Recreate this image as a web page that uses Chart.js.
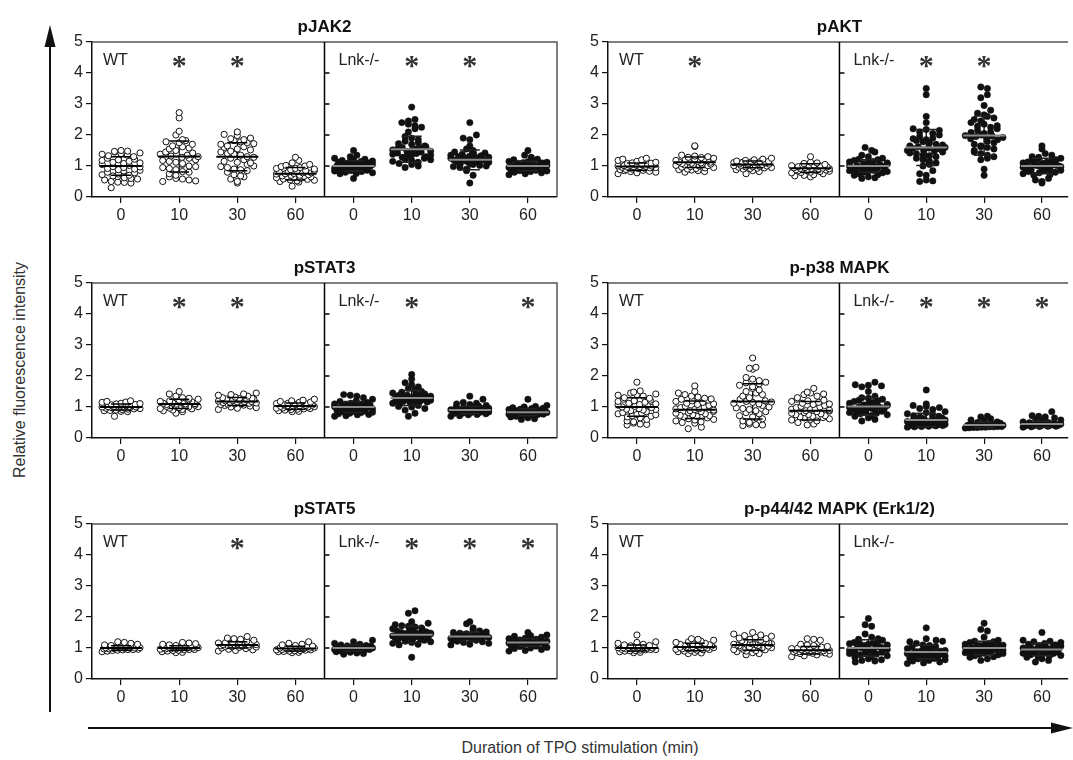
<!DOCTYPE html>
<html>
<head>
<meta charset="utf-8">
<script src="https://cdn.jsdelivr.net/npm/chart.js@4.4.0/dist/chart.umd.min.js"></script>
<style>
  html, body { margin: 0; padding: 0; background: #fff; overflow: hidden; }
  body { width: 1073px; height: 760px; position: relative; font-family: "Liberation Sans", Arial, sans-serif; }
  canvas { position: absolute; }
  .ytitle { position: absolute; left: 20px; top: 370px; transform: translate(-50%, -50%) rotate(-90deg); font-size: 16px; color: #333; white-space: nowrap; }
  .xtitle { position: absolute; left: 580px; top: 748px; transform: translate(-50%, -50%); font-size: 16px; color: #333; white-space: nowrap; }
  svg { position: absolute; left: 0; top: 0; }
</style>
</head>
<body>
<svg width="1073" height="760">
  <line x1="50" y1="712" x2="50" y2="40" stroke="#111" stroke-width="2"/>
  <polygon points="50,25 44.5,47 55.5,47" fill="#111"/>
  <line x1="88" y1="728" x2="1060" y2="728" stroke="#111" stroke-width="2"/>
  <polygon points="1073,728 1051,722.5 1051,733.5" fill="#111"/>
</svg>
<div class="ytitle">Relative fluorescence intensity</div>
<div class="xtitle">Duration of TPO stimulation (min)</div>

<canvas id="c0" width="510" height="230" style="left:52px;top:2px"></canvas>
<canvas id="c1" width="505" height="230" style="left:568px;top:2px"></canvas>
<canvas id="c2" width="510" height="230" style="left:52px;top:243px"></canvas>
<canvas id="c3" width="505" height="230" style="left:568px;top:243px"></canvas>
<canvas id="c4" width="510" height="230" style="left:52px;top:484px"></canvas>
<canvas id="c5" width="505" height="230" style="left:568px;top:484px"></canvas>

<script>
// === Dados (minutos de estímulo) ===
const times = ["0", "10", "30", "60"];
const yTicks = [0, 1, 2, 3, 4, 5];

// pJAK2
const pJAK2_WT = [
  [1.45,1.48,1.50,1.42,1.38,1.35,1.47,1.30,1.25,1.22,1.18,1.15,1.12,1.08,1.05,1.02,0.98,0.95,0.92,0.90,0.86,0.84,0.80,0.78,0.74,0.70,0.68,0.66,0.62,0.60,0.55,0.50,0.47,0.45,0.48,0.30,1.40,1.33,1.10,0.97,1.20,0.88,0.72,0.58],
  [2.72,2.55,2.12,2.00,1.85,1.82,1.78,1.75,1.70,1.62,1.58,1.55,1.50,1.45,1.42,1.38,1.35,1.32,1.28,1.25,1.20,1.15,1.12,1.08,1.05,1.00,0.98,0.92,0.88,0.82,0.80,0.75,0.65,0.60,0.55,0.52,0.50,0.58,1.65,1.40,1.30,1.18,0.95,0.70],
  [2.10,2.02,1.98,1.90,1.88,1.85,1.82,1.78,1.75,1.70,1.65,1.60,1.55,1.52,1.48,1.45,1.40,1.35,1.30,1.28,1.25,1.20,1.15,1.10,1.05,1.00,0.98,0.95,0.90,0.85,0.80,0.72,0.68,0.65,0.58,0.50,0.45,1.62,1.38,1.12,0.88,1.72],
  [1.28,1.18,1.10,1.05,1.00,0.98,0.95,0.92,0.90,0.88,0.85,0.82,0.80,0.78,0.76,0.75,0.72,0.70,0.68,0.66,0.65,0.62,0.60,0.58,0.55,0.52,0.50,0.48,0.35,0.85,0.74,0.63,0.57,0.80,0.70,0.92,0.78,0.67,0.54,1.02]
];
const pJAK2_Lnk = [
  [1.50,1.35,1.30,1.25,1.22,1.20,1.18,1.15,1.12,1.10,1.08,1.05,1.03,1.00,1.00,0.98,0.96,0.95,0.92,0.90,0.88,0.86,0.85,0.82,0.80,0.78,0.76,0.75,0.60,1.02,0.97,0.93,1.07,1.13,0.89,1.16,0.84,1.04,0.99,0.91],
  [2.90,2.50,2.45,2.40,2.35,2.30,2.25,2.20,2.10,1.95,1.90,1.85,1.80,1.75,1.70,1.65,1.60,1.58,1.55,1.52,1.50,1.48,1.45,1.42,1.40,1.38,1.35,1.32,1.30,1.28,1.25,1.22,1.20,1.15,1.12,1.08,1.05,1.00,0.95,1.62,1.47,1.36,1.18,1.72,1.55],
  [2.40,2.00,1.90,1.85,1.65,1.55,1.50,1.45,1.40,1.38,1.35,1.32,1.30,1.28,1.25,1.22,1.20,1.18,1.15,1.12,1.10,1.08,1.05,1.02,1.00,0.98,0.95,0.90,0.85,0.70,0.45,1.27,1.33,1.17,1.23,1.13,1.42,1.07,1.26,1.19],
  [1.50,1.35,1.28,1.22,1.20,1.18,1.15,1.12,1.10,1.08,1.05,1.03,1.00,0.99,0.98,0.96,0.95,0.93,0.92,0.90,0.88,0.86,0.85,0.82,0.80,0.78,0.75,0.72,1.02,1.06,0.94,0.89,1.11,0.97,0.84,1.01,1.14,0.91]
];
const pJAK2_mean = [1.00, 1.31, 1.30, 0.75, 1.00, 1.54, 1.20, 1.00];
const pJAK2_sd   = [0.30, 0.50, 0.45, 0.20, 0.17, 0.42, 0.32, 0.15];
const pJAK2_star = [0, 1, 1, 0, 0, 1, 1, 0];

// pAKT
const pAKT_WT = [
  [1.25,1.22,1.20,1.18,1.15,1.12,1.10,1.08,1.06,1.05,1.03,1.02,1.00,1.00,0.99,0.98,0.97,0.96,0.95,0.94,0.92,0.90,0.88,0.86,0.85,0.83,0.80,0.78,0.75,1.04,0.93,1.01,0.89,1.09,0.96,0.82],
  [1.65,1.63,1.35,1.32,1.30,1.28,1.25,1.22,1.20,1.18,1.15,1.13,1.12,1.10,1.08,1.06,1.05,1.03,1.02,1.00,0.98,0.96,0.95,0.92,0.90,0.88,0.85,0.82,0.80,1.17,1.09,1.23,0.94,1.01,1.14,0.87,1.27,1.04],
  [1.25,1.22,1.20,1.18,1.16,1.15,1.13,1.12,1.10,1.08,1.07,1.06,1.05,1.04,1.03,1.02,1.00,0.99,0.98,0.96,0.95,0.93,0.92,0.90,0.88,0.85,0.82,0.75,1.11,1.01,0.97,1.14,0.94,1.09],
  [1.30,1.12,1.10,1.08,1.05,1.03,1.02,1.00,0.98,0.97,0.95,0.94,0.93,0.92,0.90,0.89,0.88,0.87,0.85,0.83,0.82,0.80,0.78,0.75,0.72,0.70,0.68,0.65,0.91,0.96,0.86,1.01,0.79,0.99,0.84,0.92]
];
const pAKT_Lnk = [
  [1.60,1.50,1.45,1.35,1.30,1.25,1.22,1.20,1.18,1.15,1.12,1.10,1.08,1.05,1.03,1.02,1.00,0.98,0.97,0.95,0.93,0.92,0.90,0.88,0.86,0.85,0.82,0.80,0.78,0.75,0.72,0.70,0.65,0.62,0.60,1.06,0.94,1.01,0.89,1.13,0.99,0.84],
  [3.50,3.30,2.60,2.40,2.20,2.18,2.15,2.10,2.05,2.00,1.95,1.90,1.85,1.82,1.78,1.75,1.70,1.65,1.62,1.60,1.58,1.55,1.52,1.50,1.48,1.45,1.40,1.35,1.30,1.25,1.20,1.15,1.10,1.05,1.00,0.85,0.75,0.70,0.55,0.50,0.52,1.68,1.42,1.57,1.88,1.33],
  [3.55,3.50,3.30,3.20,2.95,2.80,2.70,2.65,2.60,2.55,2.45,2.40,2.35,2.30,2.25,2.20,2.15,2.10,2.05,2.00,1.98,1.95,1.92,1.90,1.85,1.80,1.75,1.70,1.65,1.60,1.55,1.50,1.45,1.40,1.35,1.30,1.25,1.20,0.90,0.70,2.08,1.88,1.62,2.28,1.97,2.50],
  [1.65,1.55,1.40,1.35,1.30,1.28,1.25,1.22,1.20,1.18,1.15,1.12,1.10,1.08,1.05,1.03,1.02,1.00,0.98,0.97,0.95,0.93,0.92,0.90,0.88,0.86,0.85,0.82,0.80,0.78,0.75,0.72,0.70,0.60,0.55,0.50,0.45,1.06,0.96,1.01,0.91,1.13]
];
const pAKT_mean = [0.98, 1.12, 1.05, 0.93, 1.00, 1.60, 1.98, 1.00];
const pAKT_sd   = [0.12, 0.17, 0.11, 0.14, 0.20, 0.58, 0.63, 0.25];
const pAKT_star = [0, 1, 0, 0, 0, 1, 1, 0];

// pSTAT3
const pSTAT3_WT = [
  [1.20,1.18,1.16,1.15,1.12,1.10,1.08,1.06,1.05,1.04,1.02,1.01,1.00,0.99,0.98,0.97,0.96,0.95,0.94,0.92,0.90,0.88,0.86,0.85,0.70,1.03,0.93,1.07,0.89,1.11,0.97,1.00],
  [1.50,1.42,1.35,1.30,1.28,1.25,1.22,1.20,1.18,1.15,1.13,1.12,1.10,1.08,1.06,1.05,1.03,1.02,1.00,0.98,0.96,0.95,0.92,0.90,0.88,0.85,0.80,1.17,1.09,1.01,1.23,0.94,1.11],
  [1.45,1.42,1.40,1.38,1.35,1.32,1.30,1.28,1.26,1.25,1.23,1.22,1.20,1.19,1.18,1.17,1.15,1.14,1.12,1.10,1.08,1.06,1.05,1.03,1.00,0.98,0.96,0.92,1.21,1.16,1.11,1.27,1.09,1.13],
  [1.25,1.22,1.20,1.18,1.16,1.15,1.12,1.10,1.08,1.06,1.05,1.04,1.03,1.02,1.01,1.00,0.99,0.98,0.97,0.96,0.95,0.93,0.92,0.90,0.88,0.86,0.85,1.07,1.00,0.94,1.11,1.03]
];
const pSTAT3_Lnk = [
  [1.40,1.38,1.35,1.30,1.25,1.20,1.18,1.15,1.12,1.10,1.08,1.06,1.05,1.03,1.02,1.00,0.98,0.97,0.95,0.93,0.92,0.90,0.88,0.86,0.85,0.83,0.82,0.80,0.78,0.76,0.75,0.72,0.70,1.01,0.96,1.09,0.89,1.04,0.94,0.87],
  [2.05,1.90,1.78,1.72,1.65,1.60,1.55,1.50,1.48,1.45,1.42,1.40,1.38,1.35,1.32,1.30,1.28,1.26,1.25,1.22,1.20,1.18,1.15,1.12,1.10,1.08,1.05,1.02,1.00,0.95,0.90,0.80,0.70,1.34,1.27,1.21,1.31,1.16,1.24,1.37,1.29,1.19],
  [1.35,1.25,1.15,1.12,1.10,1.08,1.05,1.03,1.00,0.98,0.96,0.95,0.94,0.92,0.91,0.90,0.89,0.88,0.87,0.86,0.85,0.84,0.82,0.80,0.78,0.76,0.75,0.72,0.70,0.93,0.89,0.86,0.97,0.83,0.91,0.79],
  [1.25,1.05,1.02,1.00,0.98,0.96,0.95,0.93,0.92,0.90,0.88,0.87,0.86,0.85,0.84,0.83,0.82,0.81,0.80,0.79,0.78,0.77,0.76,0.75,0.73,0.72,0.70,0.68,0.65,0.62,0.60,0.84,0.80,0.88,0.77,0.86,0.82]
];
const pSTAT3_mean = [1.00, 1.10, 1.18, 1.03, 1.00, 1.29, 0.90, 0.83];
const pSTAT3_sd   = [0.10, 0.15, 0.13, 0.10, 0.18, 0.24, 0.12, 0.11];
const pSTAT3_star = [0, 1, 1, 0, 0, 1, 0, 1];

// p-p38 MAPK
const p38_WT = [
  [1.80,1.52,1.48,1.45,1.42,1.40,1.35,1.30,1.28,1.25,1.20,1.18,1.15,1.12,1.10,1.08,1.05,1.02,1.00,0.98,0.95,0.92,0.90,0.88,0.85,0.82,0.80,0.78,0.75,0.72,0.70,0.68,0.65,0.60,0.55,0.52,0.48,0.45,0.42,0.44,1.38,1.06,0.93,1.22,0.76],
  [1.68,1.50,1.45,1.40,1.35,1.32,1.28,1.25,1.22,1.20,1.18,1.15,1.12,1.10,1.05,1.02,1.00,0.98,0.95,0.92,0.90,0.88,0.85,0.82,0.80,0.78,0.75,0.72,0.70,0.68,0.65,0.62,0.60,0.58,0.55,0.52,0.50,0.48,0.35,0.30,1.08,0.94,0.86,1.26,0.73],
  [2.58,2.28,2.25,2.22,1.95,1.90,1.85,1.80,1.78,1.75,1.70,1.65,1.60,1.55,1.45,1.40,1.35,1.30,1.25,1.20,1.18,1.15,1.12,1.10,1.05,1.00,0.95,0.92,0.88,0.85,0.82,0.78,0.72,0.68,0.65,0.62,0.55,0.50,0.45,0.42,0.40,0.43,1.16,0.97,1.50],
  [1.60,1.48,1.45,1.42,1.40,1.35,1.30,1.25,1.22,1.20,1.18,1.15,1.12,1.10,1.05,1.02,1.00,0.98,0.95,0.92,0.90,0.88,0.85,0.82,0.80,0.78,0.75,0.72,0.70,0.68,0.65,0.62,0.60,0.58,0.55,0.50,0.45,0.42,0.87,1.08,0.76,0.93,0.66]
];
const p38_Lnk = [
  [1.80,1.72,1.70,1.68,1.65,1.50,1.35,1.30,1.28,1.25,1.22,1.20,1.18,1.15,1.12,1.10,1.08,1.05,1.03,1.00,0.98,0.96,0.95,0.93,0.90,0.88,0.86,0.85,0.82,0.80,0.78,0.75,0.72,0.70,0.65,0.60,0.55,1.02,0.94,1.07,0.89,0.99],
  [1.55,1.10,1.05,1.02,0.98,0.95,0.92,0.85,0.82,0.78,0.75,0.72,0.70,0.68,0.65,0.62,0.60,0.58,0.56,0.55,0.53,0.52,0.50,0.48,0.47,0.46,0.45,0.44,0.43,0.42,0.41,0.40,0.40,0.39,0.38,0.37,0.36,0.35,0.54,0.49,0.44,0.51,0.42,0.63],
  [0.70,0.68,0.62,0.58,0.55,0.52,0.50,0.48,0.46,0.45,0.44,0.43,0.42,0.42,0.41,0.40,0.40,0.39,0.39,0.38,0.38,0.37,0.37,0.36,0.36,0.35,0.35,0.34,0.34,0.33,0.32,0.40,0.38,0.41,0.37,0.43],
  [0.85,0.72,0.70,0.68,0.65,0.62,0.58,0.55,0.52,0.50,0.49,0.48,0.47,0.46,0.45,0.44,0.44,0.43,0.42,0.42,0.41,0.40,0.40,0.39,0.39,0.38,0.38,0.37,0.36,0.35,0.46,0.43,0.41,0.45,0.40]
];
const p38_mean = [1.00, 0.91, 1.18, 0.88, 1.02, 0.58, 0.42, 0.45];
const p38_sd   = [0.30, 0.28, 0.57, 0.30, 0.29, 0.22, 0.09, 0.10];
const p38_star = [0, 0, 0, 0, 0, 1, 1, 1];

// pSTAT5
const pSTAT5_WT = [
  [1.20,1.18,1.15,1.12,1.10,1.08,1.06,1.05,1.04,1.03,1.02,1.01,1.00,1.00,0.99,0.98,0.97,0.96,0.95,0.94,0.93,0.92,0.90,0.88,1.01,0.97,1.03,0.95,0.99],
  [1.18,1.16,1.14,1.12,1.10,1.08,1.06,1.05,1.04,1.03,1.02,1.01,1.00,1.00,0.99,0.98,0.97,0.96,0.95,0.94,0.93,0.92,0.90,0.88,0.86,0.85,1.01,0.97,1.03,0.95],
  [1.37,1.32,1.30,1.28,1.25,1.22,1.20,1.18,1.16,1.15,1.14,1.12,1.11,1.10,1.09,1.08,1.07,1.06,1.05,1.04,1.03,1.02,1.00,0.98,0.96,0.94,0.92,0.90,1.13,1.08,1.05,1.17,1.11],
  [1.20,1.15,1.12,1.10,1.08,1.06,1.04,1.03,1.02,1.01,1.00,0.99,0.98,0.97,0.96,0.95,0.94,0.93,0.92,0.91,0.90,0.89,0.88,0.86,0.85,0.97,1.00,0.94,1.03]
];
const pSTAT5_Lnk = [
  [1.25,1.20,1.15,1.12,1.10,1.08,1.06,1.05,1.04,1.03,1.02,1.01,1.00,1.00,0.99,0.98,0.97,0.96,0.95,0.94,0.93,0.92,0.91,0.90,0.88,0.86,0.84,0.82,0.80,1.01,0.97,1.03,0.95,0.99,1.07,0.93],
  [2.20,2.12,1.85,1.80,1.75,1.72,1.70,1.68,1.65,1.62,1.60,1.58,1.55,1.52,1.50,1.48,1.46,1.45,1.43,1.42,1.40,1.38,1.36,1.35,1.33,1.32,1.30,1.28,1.26,1.25,1.22,1.20,1.18,1.15,1.12,1.10,0.70,1.44,1.39,1.51,1.34,1.47,1.29],
  [1.85,1.78,1.65,1.60,1.55,1.52,1.50,1.48,1.46,1.45,1.43,1.42,1.40,1.39,1.38,1.37,1.36,1.35,1.34,1.33,1.32,1.31,1.30,1.28,1.26,1.25,1.22,1.20,1.18,1.15,1.12,1.10,1.36,1.33,1.41,1.29,1.38],
  [1.50,1.42,1.40,1.38,1.35,1.32,1.30,1.28,1.26,1.25,1.23,1.22,1.20,1.19,1.18,1.17,1.16,1.15,1.14,1.13,1.12,1.10,1.08,1.06,1.05,1.02,1.00,0.98,0.95,0.92,0.90,1.21,1.16,1.11,1.24]
];
const pSTAT5_mean = [1.00, 1.00, 1.10, 0.98, 1.00, 1.43, 1.37, 1.18];
const pSTAT5_sd   = [0.07, 0.07, 0.10, 0.08, 0.10, 0.27, 0.15, 0.12];
const pSTAT5_star = [0, 0, 1, 0, 0, 1, 1, 1];

// p-p44/42 MAPK (Erk1/2)
const erk_WT = [
  [1.42,1.20,1.18,1.15,1.12,1.10,1.08,1.07,1.06,1.05,1.04,1.03,1.02,1.01,1.00,1.00,0.99,0.98,0.97,0.96,0.95,0.94,0.93,0.92,0.91,0.90,0.88,0.86,0.85,1.01,0.97,1.03,0.95],
  [1.30,1.28,1.25,1.22,1.20,1.18,1.15,1.12,1.10,1.08,1.07,1.06,1.05,1.04,1.03,1.02,1.01,1.00,0.99,0.98,0.97,0.96,0.95,0.94,0.92,0.90,0.88,0.86,0.84,0.82,1.06,1.00,0.93,1.14],
  [1.50,1.45,1.42,1.40,1.38,1.35,1.32,1.30,1.28,1.25,1.22,1.20,1.18,1.16,1.15,1.13,1.12,1.10,1.08,1.06,1.05,1.03,1.02,1.00,0.98,0.96,0.95,0.92,0.90,0.88,0.85,0.82,0.78,1.11,1.07,1.19,1.01,1.24,0.94,1.14],
  [1.30,1.28,1.25,1.12,1.10,1.08,1.05,1.03,1.02,1.00,0.99,0.98,0.97,0.96,0.95,0.94,0.93,0.92,0.91,0.90,0.89,0.88,0.87,0.86,0.85,0.84,0.83,0.82,0.80,0.78,0.75,0.72,0.95,0.91,0.88,1.01]
];
const erk_Lnk = [
  [1.95,1.75,1.70,1.45,1.35,1.30,1.28,1.25,1.22,1.20,1.18,1.15,1.12,1.10,1.08,1.05,1.03,1.02,1.00,0.98,0.96,0.95,0.93,0.92,0.90,0.88,0.85,0.82,0.80,0.78,0.75,0.72,0.70,0.65,0.62,0.60,0.58,0.55,1.06,0.94,1.14,0.86,1.01,0.91],
  [1.65,1.30,1.25,1.22,1.20,1.15,1.10,1.08,1.05,1.02,1.00,0.98,0.95,0.92,0.90,0.88,0.86,0.85,0.84,0.82,0.80,0.78,0.76,0.75,0.73,0.72,0.70,0.68,0.66,0.65,0.62,0.60,0.58,0.55,0.52,0.50,0.85,0.79,0.91,0.74,0.83,0.69],
  [1.80,1.60,1.55,1.35,1.25,1.22,1.20,1.18,1.15,1.12,1.10,1.08,1.06,1.05,1.03,1.02,1.00,0.99,0.98,0.96,0.95,0.93,0.92,0.90,0.88,0.86,0.85,0.83,0.82,0.80,0.78,0.75,0.72,0.70,0.65,0.60,1.01,0.97,1.09,0.91,1.04,0.94],
  [1.50,1.25,1.22,1.20,1.18,1.15,1.12,1.10,1.08,1.05,1.03,1.02,1.00,0.98,0.97,0.95,0.94,0.93,0.92,0.90,0.88,0.86,0.85,0.83,0.82,0.80,0.78,0.76,0.75,0.72,0.70,0.65,0.60,0.55,0.96,1.01,0.91,1.06,0.87]
];
const erk_mean = [1.00, 1.03, 1.10, 0.93, 1.00, 0.87, 1.00, 0.95];
const erk_sd   = [0.10, 0.12, 0.17, 0.12, 0.27, 0.22, 0.22, 0.20];
const erk_star = [0, 0, 0, 0, 0, 0, 0, 0];

const FONT = '"Liberation Sans", Arial, sans-serif';
const PX_X = 58.3, PX_Y = 31;   // escala aproximada p/ espalhar os pontos

function mdc(a, b) { return b ? mdc(b, a % b) : a; }

// espalha os pontos lateralmente (tipo "column scatter")
function espalhar(valores, cat) {
  const bins = {};
  valores.forEach(v => {
    const b = Math.round(v * PX_Y / 6);
    (bins[b] = bins[b] || []).push(v);
  });
  const pts = [];
  Object.keys(bins).forEach((k, bi) => {
    const vals = bins[k].slice().sort((a, b) => a - b);
    const n = vals.length;
    const passo = n > 1 ? Math.min(6.6, 38 / (n - 1)) : 0;
    // embaralha as posições dentro da faixa para não formar diagonais
    const salto = [3, 5, 7, 2, 1].find(s => mdc(s, n) === 1) || 1;
    vals.forEach((v, j) => {
      const slot = (j * salto + bi) % n;
      pts.push({ x: cat + (slot - (n - 1) / 2) * passo / PX_X, y: v });
    });
  });
  return pts;
}

// barras de DP (ficam atrás dos círculos abertos)
const barrasDP = {
  id: "barrasDP",
  beforeDatasetsDraw(chart, args, o) {
    const { ctx, scales: { x, y } } = chart;
    ctx.save();
    ctx.strokeStyle = "#000";
    ctx.lineWidth = 1.3;
    o.means.forEach((m, i) => {
      const cx = x.getPixelForValue(i);
      ctx.beginPath();
      ctx.moveTo(cx, y.getPixelForValue(m + o.sds[i]));
      ctx.lineTo(cx, y.getPixelForValue(m - o.sds[i]));
      ctx.stroke();
    });
    ctx.restore();
  }
};

// médias, DP, divisória, rótulos e asteriscos
const decoPainel = {
  id: "decoPainel",
  afterDatasetsDraw(chart, args, o) {
    const { ctx, scales: { x, y } } = chart;
    ctx.save();
    o.means.forEach((m, i) => {
      const cx = x.getPixelForValue(i);
      const py = y.getPixelForValue(m);
      const pt = y.getPixelForValue(m + o.sds[i]);
      const pb = y.getPixelForValue(m - o.sds[i]);
      const lnk = i >= 4;
      ctx.strokeStyle = lnk ? "#222" : "#000";
      ctx.lineWidth = 1.5;
      ctx.beginPath();
      ctx.moveTo(cx - 10, pt); ctx.lineTo(cx + 10, pt);
      ctx.moveTo(cx - 10, pb); ctx.lineTo(cx + 10, pb);
      ctx.stroke();
      ctx.strokeStyle = lnk ? "#8a8a8a" : "#000";
      ctx.lineWidth = 2;
      ctx.beginPath();
      ctx.moveTo(cx - 21, py); ctx.lineTo(cx + 21, py);
      ctx.stroke();
    });
    ctx.restore();
  },
  afterDraw(chart, args, o) {
    const { ctx, chartArea: a, scales: { x, y } } = chart;
    const dx = x.getPixelForValue(3.5);
    ctx.save();
    // borda superior / direita
    ctx.strokeStyle = "#555";
    ctx.lineWidth = 1.5;
    ctx.beginPath();
    ctx.moveTo(a.left, a.top); ctx.lineTo(a.right, a.top);
    if (!o.right) { ctx.lineTo(a.right, a.bottom); }
    ctx.stroke();
    // divisória WT | Lnk-/-
    ctx.strokeStyle = "#000";
    ctx.lineWidth = 2;
    ctx.beginPath();
    ctx.moveTo(dx, a.top); ctx.lineTo(dx, a.bottom);
    [1, 2, 3, 4].forEach(v => {
      const py = y.getPixelForValue(v);
      ctx.moveTo(dx, py); ctx.lineTo(dx + 5, py);
    });
    ctx.lineWidth = 1.5;
    ctx.stroke();
    // título
    ctx.fillStyle = "#111";
    ctx.font = "bold 17px " + FONT;
    ctx.textAlign = "center";
    ctx.textBaseline = "alphabetic";
    ctx.fillText(o.title, dx, a.top - 10);
    // WT / Lnk-/-
    ctx.font = "16px " + FONT;
    ctx.textAlign = "left";
    ctx.fillStyle = "#222";
    ctx.fillText("WT", a.left + 11, a.top + 23);
    ctx.fillText("Lnk-/-", dx + 14, a.top + 23);
    // asteriscos
    ctx.font = "bold 30px \"Liberation Serif\"";
    ctx.textAlign = "center";
    ctx.fillStyle = "#333";
    o.stars.forEach((s, i) => {
      if (s) ctx.fillText("*", x.getPixelForValue(i), a.top + 33);
    });
    ctx.restore();
  }
};

function criarPainel(id, titulo, wt, lnk, means, sds, stars, right) {
  const ptsWT = [], ptsLnk = [];
  wt.forEach((g, i) => ptsWT.push(...espalhar(g, i)));
  lnk.forEach((g, i) => ptsLnk.push(...espalhar(g, i + 4)));

  new Chart(document.getElementById(id), {
    type: "scatter",
    data: {
      datasets: [
        { label: "WT", data: ptsWT, pointRadius: 3.1, pointBackgroundColor: "#fff", pointBorderColor: "#111", pointBorderWidth: 1 },
        { label: "Lnk-/-", data: ptsLnk, pointRadius: 3.2, pointBackgroundColor: "#111", pointBorderColor: "#111", pointBorderWidth: 0.5 }
      ]
    },
    options: {
      responsive: false,
      animation: false,
      devicePixelRatio: 1,
      layout: { padding: { top: 40, right: right ? 0 : 4, left: 0, bottom: 0 } },
      plugins: {
        legend: { display: false },
        tooltip: { enabled: false },
        barrasDP: { means, sds },
        decoPainel: { title: titulo, means, sds, stars, right }
      },
      scales: {
        x: {
          type: "linear",
          min: -0.5,
          max: right ? 7.45 : 7.5,
          afterBuildTicks: s => { s.ticks = [0, 1, 2, 3, 4, 5, 6, 7].map(v => ({ value: v })); },
          afterFit: s => { s.height = 35; },
          ticks: { callback: v => times[v % 4], autoSkip: false, maxRotation: 0, padding: 3, color: "#222", font: { size: 16, family: FONT } },
          grid: { drawOnChartArea: false, tickLength: 6, color: "#111", lineWidth: 1.2 },
          border: { color: "#111", width: 1.5 }
        },
        y: {
          min: 0,
          max: 5,
          afterBuildTicks: s => { s.ticks = yTicks.map(v => ({ value: v })); },
          afterFit: s => { s.width = 40; },
          ticks: { padding: 3, color: "#222", font: { size: 16, family: FONT } },
          grid: { drawOnChartArea: false, tickLength: 6, color: "#111", lineWidth: 1.2 },
          border: { color: "#111", width: 1.5 }
        }
      }
    },
    plugins: [barrasDP, decoPainel]
  });
}

criarPainel("c0", "pJAK2", pJAK2_WT, pJAK2_Lnk, pJAK2_mean, pJAK2_sd, pJAK2_star, false);
criarPainel("c1", "pAKT", pAKT_WT, pAKT_Lnk, pAKT_mean, pAKT_sd, pAKT_star, true);
criarPainel("c2", "pSTAT3", pSTAT3_WT, pSTAT3_Lnk, pSTAT3_mean, pSTAT3_sd, pSTAT3_star, false);
criarPainel("c3", "p-p38 MAPK", p38_WT, p38_Lnk, p38_mean, p38_sd, p38_star, true);
criarPainel("c4", "pSTAT5", pSTAT5_WT, pSTAT5_Lnk, pSTAT5_mean, pSTAT5_sd, pSTAT5_star, false);
criarPainel("c5", "p-p44/42 MAPK (Erk1/2)", erk_WT, erk_Lnk, erk_mean, erk_sd, erk_star, true);
</script>
</body>
</html>
